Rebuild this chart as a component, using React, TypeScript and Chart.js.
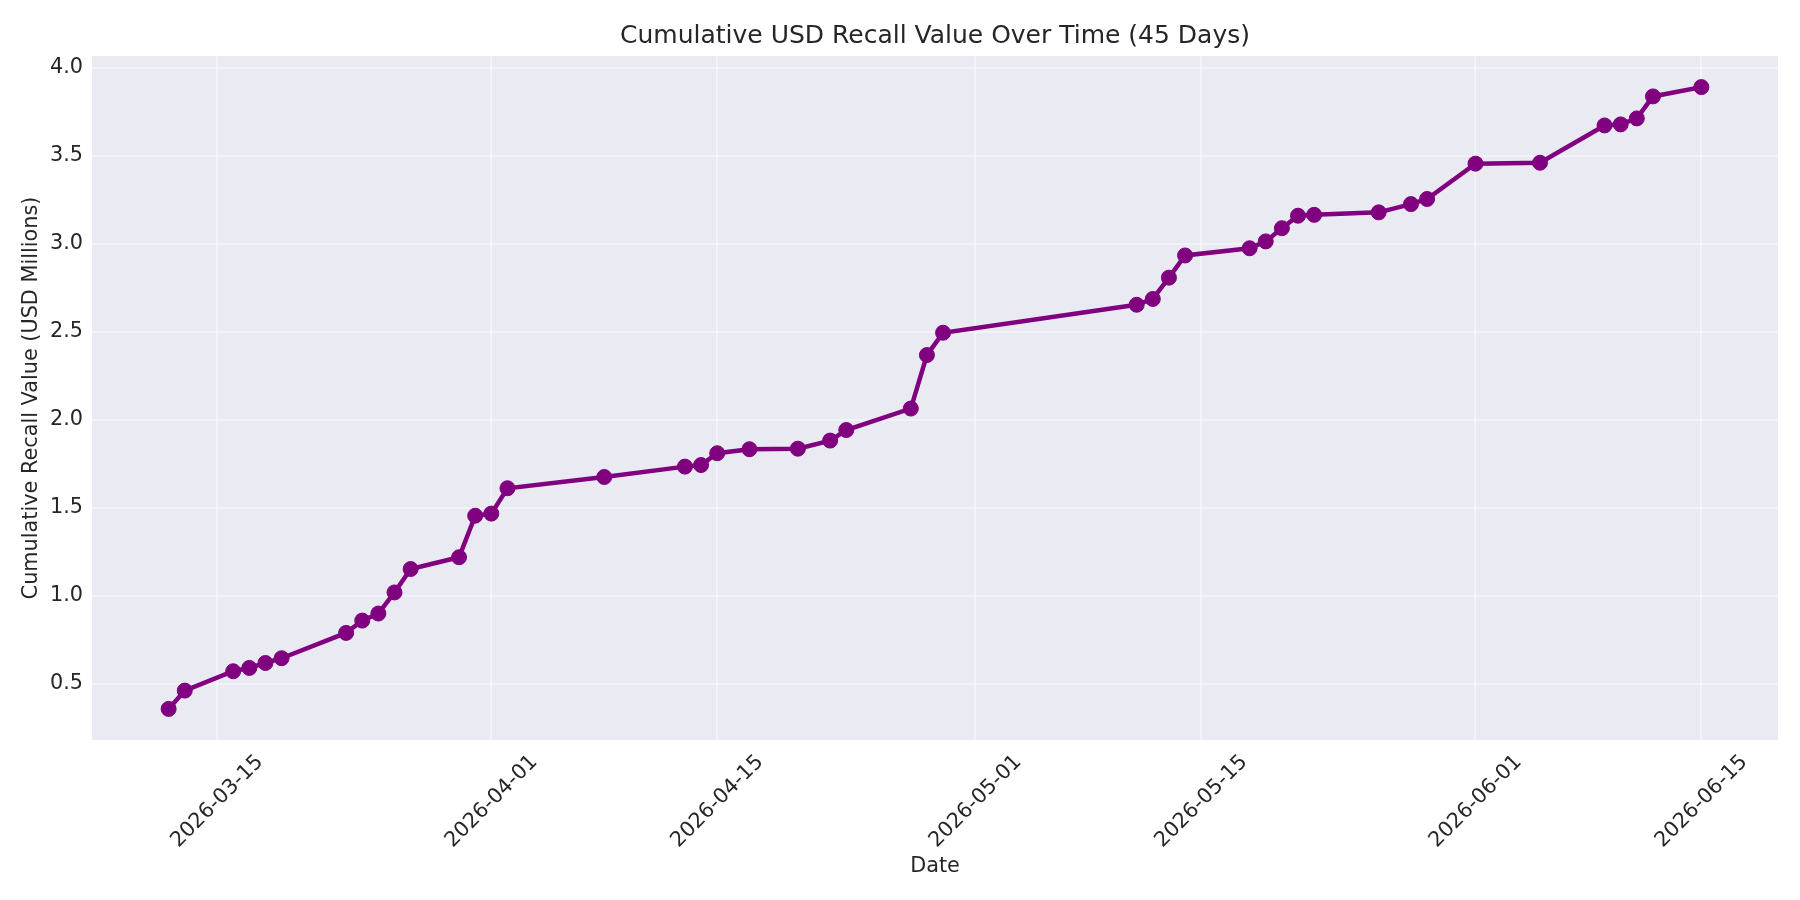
import { useEffect, useRef } from "react";
import Chart from "chart.js/auto";

const dates = [
  "2026-03-12", "2026-03-13", "2026-03-16", "2026-03-17", "2026-03-18", "2026-03-19",
  "2026-03-23", "2026-03-24", "2026-03-25", "2026-03-26", "2026-03-27", "2026-03-30",
  "2026-03-31", "2026-04-01", "2026-04-02", "2026-04-08", "2026-04-13", "2026-04-14",
  "2026-04-15", "2026-04-17", "2026-04-20", "2026-04-22", "2026-04-23", "2026-04-27",
  "2026-04-28", "2026-04-29", "2026-05-11", "2026-05-12", "2026-05-13", "2026-05-14",
  "2026-05-18", "2026-05-19", "2026-05-20", "2026-05-21", "2026-05-22", "2026-05-26",
  "2026-05-28", "2026-05-29", "2026-06-01", "2026-06-05", "2026-06-09", "2026-06-10",
  "2026-06-11", "2026-06-12", "2026-06-15",
];

const cumulative = [
  0.358, 0.462, 0.572, 0.591, 0.619, 0.646,
  0.79, 0.86, 0.9, 1.02, 1.153, 1.22,
  1.456, 1.468, 1.612, 1.676, 1.735, 1.744,
  1.811, 1.834, 1.837, 1.883, 1.943, 2.065,
  2.369, 2.496, 2.655, 2.688, 2.809, 2.935,
  2.976, 3.015, 3.09, 3.161, 3.166, 3.18,
  3.227, 3.256, 3.457, 3.462, 3.674, 3.68,
  3.714, 3.839, 3.892,
];

const xTickLabels = ["2026-03-15", "2026-04-01", "2026-04-15", "2026-05-01", "2026-05-15", "2026-06-01", "2026-06-15"];
const yTicks = [0.5, 1.0, 1.5, 2.0, 2.5, 3.0, 3.5, 4.0];

const DAY = 86400000;
const toDay = (s: string) => Date.parse(s) / DAY;

const FONT = "'DejaVu Sans', sans-serif";
const TEXT = "#262626";
const GRID = "rgba(255,255,255,0.4)";

const plotBg = {
  id: "plotBg",
  beforeDraw(chart: any) {
    const { ctx, chartArea } = chart;
    ctx.save();
    ctx.fillStyle = "#EAEAF2";
    ctx.fillRect(chartArea.left, chartArea.top, chartArea.right - chartArea.left, chartArea.bottom - chartArea.top);
    ctx.restore();
  },
};

export default function App() {
  const canvasRef = useRef<HTMLCanvasElement | null>(null);

  useEffect(() => {
    document.body.style.margin = "0";
    if (!canvasRef.current) return;

    const xs = dates.map(toDay);
    const points = xs.map((x, i) => ({ x, y: cumulative[i] }));
    const xSpan = xs[xs.length - 1] - xs[0];
    const ySpan = Math.max(...cumulative) - Math.min(...cumulative);
    const xTickValues = xTickLabels.map(toDay);

    const chart = new Chart(canvasRef.current, {
      type: "line",
      data: {
        datasets: [{
          data: points,
          borderColor: "#800080",
          backgroundColor: "#800080",
          borderWidth: 4.5,
          pointRadius: 7.5,
          pointBorderWidth: 1,
          pointBackgroundColor: "#800080",
          pointBorderColor: "#800080",
          tension: 0,
        }],
      },
      options: {
        animation: false,
        responsive: true,
        maintainAspectRatio: false,
        layout: { padding: { left: 0, right: 22, top: 0, bottom: 0 } },
        plugins: {
          legend: { display: false },
          tooltip: { enabled: false },
          title: {
            display: true,
            fullSize: false,
            text: "Cumulative USD Recall Value Over Time (45 Days)",
            color: TEXT,
            font: { family: FONT, size: 25, weight: "normal" },
            padding: { top: 21, bottom: 5 },
          },
        },
        scales: {
          x: {
            type: "linear",
            min: xs[0] - 0.05 * xSpan,
            max: xs[xs.length - 1] + 0.05 * xSpan,
            afterBuildTicks: (scale: any) => {
              scale.ticks = xTickValues.map((v) => ({ value: v }));
            },
            afterFit: (scale: any) => {
              scale.height = 160;
              scale.paddingLeft = 0;
              scale.paddingRight = 0;
            },
            border: { display: false },
            grid: { color: GRID, lineWidth: 2, drawTicks: false },
            ticks: {
              autoSkip: false,
              minRotation: 45,
              maxRotation: 45,
              labelOffset: 43,
              padding: 10,
              color: TEXT,
              font: { family: FONT, size: 20.8 },
              callback: (v: any) => {
                const i = xTickValues.indexOf(v);
                return i >= 0 ? xTickLabels[i] : "";
              },
            },
            title: {
              display: true,
              text: "Date",
              color: TEXT,
              font: { family: FONT, size: 20.8 },
              padding: { top: 0, bottom: 21 },
            },
          },
          y: {
            min: Math.min(...cumulative) - 0.05 * ySpan,
            max: Math.max(...cumulative) + 0.05 * ySpan,
            afterBuildTicks: (scale: any) => {
              scale.ticks = yTicks.map((v) => ({ value: v }));
            },
            afterFit: (scale: any) => {
              scale.width = 92;
            },
            border: { display: false },
            grid: { color: GRID, lineWidth: 2, drawTicks: false },
            ticks: {
              padding: 9,
              color: TEXT,
              font: { family: FONT, size: 20.8 },
              callback: (v: any) => Number(v).toFixed(1),
            },
            title: {
              display: true,
              text: "Cumulative Recall Value (USD Millions)",
              color: TEXT,
              font: { family: FONT, size: 20.8 },
              padding: { top: 19, bottom: 0 },
            },
          },
        },
      },
      plugins: [plotBg],
    });

    return () => chart.destroy();
  }, []);

  return (
    <div style={{ position: "relative", width: "1800px", height: "900px", background: "#fff" }}>
      <canvas ref={canvasRef} />
    </div>
  );
}
